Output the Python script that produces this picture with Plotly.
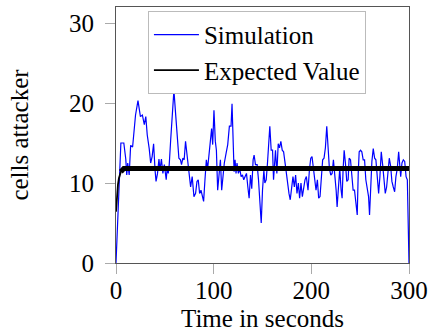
import plotly.graph_objects as go

# Simulation series (time in s, cells attacker)
sim_t = [0, 5, 8, 10, 11, 12, 13.5, 15, 17, 18.5, 20, 22.5, 25, 27, 29, 30.5, 32, 34, 35.5, 37,
         38.5, 40, 41, 42.5, 44, 45, 46.5, 48, 49.5, 51.4, 52.5, 53.5, 54.5, 56, 57.5, 59.3, 61,
         62.7, 64.4, 66, 67.1, 68.5, 69.8, 71.2, 72.9, 74.7, 76.4, 78, 79.8, 81.5, 82.9, 84.2,
         85.6, 87, 88.3, 89.7, 91.1, 92.5, 93.8, 95.2, 96.6, 97.9, 99, 100.3, 101.7, 102.8, 104.1,
         105.5, 106.9, 108.2, 109.6, 110.9, 112.7, 114.4, 116.1, 117.8, 118.8, 119.9, 120.9,
         121.9, 122.9, 123.9, 125.3, 126.7, 128.1, 129.5, 130.8, 132.2, 133.6, 135, 136.3, 137.7,
         139, 140.4, 141.4, 142.8, 144.5, 145.9, 147.3, 148.7, 150, 151.4, 152.4, 153.8, 155.1,
         156.5, 157.5, 158.9, 160.3, 161.3, 162.3, 163.3, 164.7, 166.1, 167.4, 168.8, 170.2,
         171.6, 172.9, 174.3, 175.7, 177.1, 178.4, 179.8, 181.2, 182.6, 183.9, 185.3, 186.7, 188,
         189.4, 190.8, 192.1, 193.5, 194.9, 196.6, 198, 199.4, 200.7, 202.1, 203.4, 204.8, 206.2,
         207.5, 208.9, 210.3, 211.6, 213, 214.4, 215.8, 217.1, 218.5, 219.9, 221.3, 222.6, 224,
         225.4, 226.4, 227.7, 229.1, 230.5, 231.5, 232.5, 233.6, 234.9, 236.3, 237.7, 238.7,
         240.1, 241.4, 242.8, 244.2, 245.6, 247, 248, 249, 250.4, 251.7, 253.1, 254.5, 255.8,
         257.2, 258.6, 259.6, 260.6, 262, 263.4, 264.8, 266.1, 267.5, 268.9, 270.2, 271.6, 273,
         274.3, 275.7, 277.1, 278.4, 279.8, 281.2, 282.5, 283.9, 285.3, 286.6, 288, 289.4, 290.4,
         291.5, 292.8, 294.2, 295.6, 297, 298.3, 300]
sim_v = [0, 15, 15, 13, 11, 12.5, 11, 14.7, 14.5, 17, 18.5, 20.3, 18.3, 18.5, 17.3, 18.3, 16, 14.3,
         12.5, 13.3, 14.9, 11.6, 10.2, 11.2, 13, 11.6, 13, 11.2, 12.3, 10.4, 12, 11.2, 12.3, 15.4,
         18.7, 21.6, 18.7, 15.6, 13.1, 12.9, 12.3, 13.1, 12.9, 15.2, 13.5, 11.2, 9.5, 10.8, 8.3,
         8.7, 10.2, 10.4, 8.7, 9.1, 8.5, 7.7, 10.4, 12.9, 11.8, 13.5, 15.2, 16.8, 14.8, 19.1, 15.2,
         14.1, 9.1, 11.2, 12.9, 9.1, 11.2, 12.5, 13.7, 14.8, 17.1, 17.1, 19.9, 15.4, 11.4, 12.9,
         11.2, 12.5, 11.2, 11.8, 10.8, 11, 10.4, 10.8, 11.2, 9.5, 8.1, 11, 9.3, 12.9, 13.5, 12.3,
         12.3, 10.4, 7, 5.0, 9.1, 11.6, 10, 10.4, 12.5, 14.9, 17.1, 14.1, 14.1, 10.4, 12.9, 14.1,
         11.2, 14.9, 14.4, 15.2, 14.1, 13.9, 12.7, 11.2, 10.4, 8.7, 7.9, 9.5, 10.8, 9.5, 11, 8.7,
         10, 8.1, 10, 8.3, 9.5, 10.4, 10.8, 9.1, 11.6, 13.1, 13.3, 11.6, 10.2, 9.1, 10.4, 8.1, 8.3,
         10.4, 12.9, 13.1, 14.4, 17.1, 14.9, 11.8, 11, 11.2, 12.9, 11.2, 9.1, 7, 9.5, 11.8, 9.1,
         8.1, 11.6, 14.1, 12.5, 10.2, 10.4, 13.1, 12.9, 10.8, 9.1, 9.1, 7, 6.0, 11.2, 13.9, 14.1,
         13.9, 12.9, 12.9, 10.4, 9.5, 8.3, 6, 9.5, 12.7, 14.3, 13.1, 12.9, 10.4, 8.7, 10.8, 13.9,
         12.3, 10.8, 8.7, 9.5, 11.6, 13.1, 12.1, 10.2, 9.5, 8.9, 10.8, 11.8, 13.9, 11.6, 10.8,
         12.5, 12.9, 12.7, 10.8, 10.4, 0]

# Expected value curve
exp_t = [0, 1, 2, 3, 4, 5, 6, 8, 300]
exp_v = [6.4, 8.5, 9.8, 10.6, 11.1, 11.4, 11.6, 11.8, 11.8]

x_ticks = [0, 100, 200, 300]
y_ticks = [0, 10, 20, 30]

FONT = "Liberation Serif"
FS = 25

fig = go.Figure()
fig.add_trace(go.Scatter(x=sim_t, y=sim_v, mode="lines", name="Simulation",
                         line=dict(color="#0000ff", width=1.2)))
fig.add_trace(go.Scatter(x=exp_t[5:], y=exp_v[5:], mode="lines", showlegend=False,
                         line=dict(color="black", width=5)))
fig.add_trace(go.Scatter(x=exp_t, y=exp_v, mode="lines", name="Expected Value",
                         line=dict(color="black", width=1.8)))

axis_common = dict(showgrid=False, zeroline=False, showline=True, linecolor="#555555",
                   linewidth=1.2, mirror=True, ticks="outside", ticklen=10, tickcolor="#aaaaaa",
                   tickwidth=1, tickfont=dict(family=FONT, size=FS, color="black"),
                   automargin=True)

fig.update_xaxes(range=[0, 300], tickvals=x_ticks, ticklabelstandoff=-5,
                 title=dict(text="Time in seconds", font=dict(family=FONT, size=FS, color="black"),
                            standoff=6),
                 **axis_common)
fig.update_yaxes(range=[0, 32], tickvals=y_ticks, ticklabelstandoff=6,
                 title=dict(text="cells attacker", font=dict(family=FONT, size=FS, color="black"),
                            standoff=33),
                 **axis_common)

fig.update_layout(
    width=430, height=336,
    margin=dict(l=116, r=21, t=7, b=73, autoexpand=False),
    paper_bgcolor="white", plot_bgcolor="white",
    font=dict(family=FONT, size=FS, color="black"),
    legend=dict(x=0.109, y=0.985, xanchor="left", yanchor="top", bgcolor="white",
                bordercolor="#bbbbbb", borderwidth=1, itemwidth=45,
                font=dict(family=FONT, size=FS, color="black"), tracegroupgap=0),
)

fig.write_html("out.html")
